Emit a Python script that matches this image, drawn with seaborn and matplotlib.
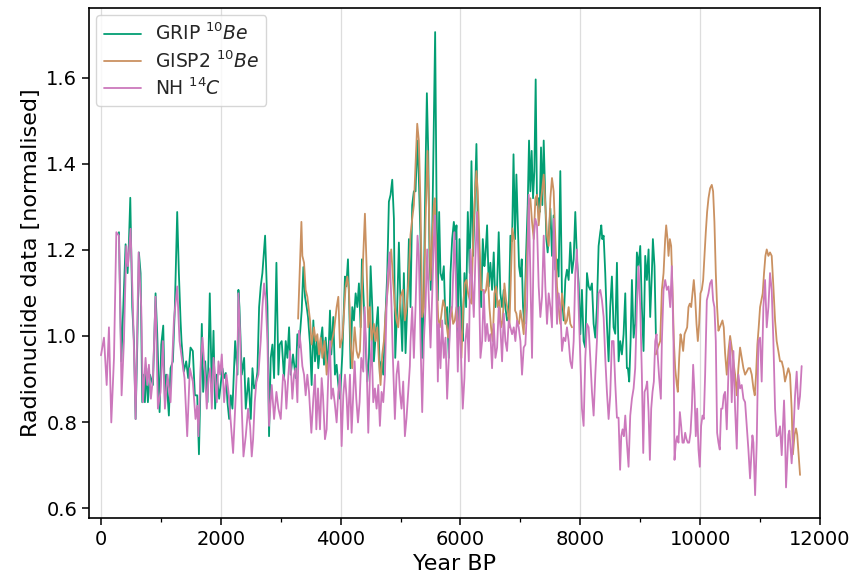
import matplotlib
matplotlib.use("Agg")
import matplotlib.pyplot as plt
from matplotlib.ticker import MultipleLocator
import numpy as np
import pandas as pd
import seaborn as sns

# ---------------- data ----------------
grip_year = [
    300, 339, 356, 411, 444, 461, 489, 522, 550, 578,
    606, 633, 661, 689, 717, 733, 756, 783, 817, 867,
    911, 939, 978, 1006, 1039, 1067, 1089, 1133, 1161, 1200,
    1233, 1272, 1300, 1328, 1344, 1383, 1422, 1456, 1494, 1533,
    1567, 1606, 1635, 1683, 1705, 1739, 1778, 1816, 1850, 1878,
    1905, 1933, 1972, 2027, 2055, 2083, 2111, 2139, 2166, 2194,
    2239, 2278, 2294, 2311, 2350, 2389, 2416, 2461, 2500, 2528,
    2555, 2583, 2611, 2639, 2666, 2694, 2739, 2778, 2805, 2833,
    2861, 2889, 2928, 2961, 2983, 3016, 3055, 3083, 3111, 3139,
    3166, 3205, 3250, 3278, 3305, 3350, 3378, 3405, 3433, 3455,
    3489, 3516, 3544, 3572, 3600, 3627, 3666, 3694, 3722, 3750,
    3789, 3822, 3844, 3877, 3905, 3933, 3961, 3989, 4028, 4072,
    4094, 4122, 4144, 4166, 4194, 4222, 4250, 4278, 4305, 4333,
    4355, 4389, 4416, 4444, 4472, 4500, 4528, 4555, 4594, 4622,
    4655, 4683, 4711, 4750, 4778, 4805, 4833, 4861, 4889, 4911,
    4944, 4972, 5000, 5028, 5055, 5083, 5111, 5139, 5166, 5194,
    5222, 5250, 5278, 5305, 5333, 5361, 5389, 5416, 5439, 5461,
    5483, 5505, 5527, 5555, 5577, 5600, 5622, 5644, 5666, 5694,
    5722, 5750, 5777, 5805, 5833, 5861, 5889, 5916, 5933, 5955,
    5983, 6016, 6038, 6066, 6094, 6122, 6155, 6183, 6211, 6238,
    6266, 6288, 6316, 6344, 6372, 6399, 6416, 6444, 6472, 6499,
    6527, 6555, 6583, 6611, 6638, 6666, 6694, 6722, 6749, 6777,
    6805, 6833, 6861, 6885, 6911, 6933, 6955, 6977, 7000, 7022,
    7044, 7066, 7094, 7122, 7144, 7166, 7188, 7211, 7233, 7255,
    7277, 7300, 7322, 7344, 7366, 7389, 7411, 7433, 7455, 7477,
    7500, 7527, 7555, 7583, 7611, 7638, 7666, 7694, 7722, 7750,
    7777, 7805, 7833, 7861, 7889, 7916, 7944, 7972, 8000, 8027,
    8055, 8083, 8111, 8139, 8166, 8194, 8222, 8250, 8277, 8305,
    8333, 8350, 8366, 8389, 8416, 8444, 8472, 8499, 8527, 8555,
    8583, 8611, 8639, 8666, 8694, 8722, 8750, 8777, 8794, 8816,
    8839, 8861, 8889, 8916, 8944, 8972, 9000, 9027, 9055, 9083,
    9111, 9139, 9166, 9194, 9211, 9238, 9261,
]
grip_value = [
    1.241, 0.941, 1.004, 1.213, 1.146, 1.194, 1.321, 1.067, 0.988, 0.807,
    0.980, 1.194, 1.146, 0.846, 0.910, 0.846, 0.925, 0.846, 0.910, 0.886,
    1.099, 1.004, 0.823, 0.980, 1.024, 0.846, 0.910, 0.815, 0.925, 0.941,
    1.067, 1.288, 1.146, 1.036, 0.988, 0.917, 0.941, 0.902, 0.973, 0.965,
    0.862, 0.862, 0.725, 1.028, 0.870, 0.941, 0.846, 1.099, 0.870, 1.012,
    0.831, 0.910, 0.854, 0.925, 0.902, 0.914, 0.846, 0.807, 0.862, 0.831,
    0.988, 0.910, 1.107, 1.067, 0.910, 0.949, 0.831, 0.902, 0.807, 0.925,
    0.878, 0.886, 0.917, 1.067, 1.115, 1.146, 1.233, 1.067, 0.767, 0.949,
    0.980, 0.902, 1.170, 0.910, 0.980, 0.988, 0.902, 0.988, 0.949, 1.020,
    0.910, 0.957, 0.902, 1.004, 0.973, 1.059, 1.160, 1.091, 1.067, 1.044,
    0.980, 0.886, 1.036, 0.941, 0.988, 0.925, 0.988, 1.020, 0.933, 0.996,
    0.925, 1.059, 0.957, 1.044, 0.910, 0.933, 0.886, 0.854, 0.957, 1.138,
    1.115, 1.178, 1.067, 0.925, 1.067, 1.036, 1.099, 1.067, 1.122, 1.020,
    1.178, 1.067, 0.988, 0.894, 0.949, 1.162, 1.067, 0.941, 1.020, 1.067,
    0.910, 0.941, 0.910, 1.052, 1.146, 1.312, 1.328, 1.363, 1.272, 0.949,
    1.067, 1.217, 1.067, 0.965, 1.146, 0.960, 1.067, 1.225, 1.067, 1.304,
    1.336, 1.336, 1.454, 1.367, 1.225, 0.949, 1.107, 1.383, 1.564, 1.430,
    1.186, 1.107, 1.225, 1.501, 1.706, 1.320, 1.083, 1.288, 1.146, 1.130,
    1.162, 1.028, 1.067, 0.949, 1.146, 1.225, 1.265, 1.225, 1.257, 0.996,
    1.225, 1.028, 0.988, 1.146, 1.067, 1.288, 1.146, 1.406, 1.186, 1.304,
    1.446, 1.265, 1.186, 1.067, 1.225, 1.162, 1.186, 1.257, 1.115, 1.170,
    1.107, 1.194, 1.067, 1.115, 1.241, 1.099, 1.067, 1.107, 1.067, 1.036,
    1.044, 1.233, 1.220, 1.422, 1.225, 1.375, 1.265, 1.162, 1.138, 1.178,
    1.067, 1.028, 1.186, 1.304, 1.454, 1.336, 1.430, 1.320, 1.383, 1.596,
    1.304, 1.320, 1.288, 1.438, 1.304, 1.454, 1.343, 1.225, 1.194, 1.241,
    1.296, 1.186, 1.280, 1.154, 1.178, 1.138, 1.383, 1.091, 1.036, 1.130,
    1.154, 1.130, 1.217, 1.146, 1.178, 1.288, 1.178, 1.122, 1.004, 1.107,
    0.988, 0.973, 1.146, 1.115, 1.107, 1.122, 1.028, 0.996, 1.067, 1.209,
    1.241, 1.257, 1.225, 1.233, 1.146, 1.028, 0.941, 1.067, 1.138, 1.020,
    1.005, 1.170, 0.941, 0.988, 0.957, 1.004, 1.099, 0.925, 0.925, 0.894,
    0.988, 1.130, 0.996, 1.028, 1.194, 1.162, 1.209, 1.067, 0.965, 1.186,
    1.130, 1.201, 1.044, 1.146, 1.225, 1.162, 1.004,
]

# GISP2 has a gap between ~7860 and ~9260 yr BP
gisp2_year_a = [
    3290, 3345, 3361, 3389, 3416, 3444, 3489, 3516, 3555, 3583,
    3611, 3639, 3666, 3694, 3733, 3766, 3805, 3844, 3889, 3933,
    3961, 3989, 4028, 4055, 4083, 4111, 4139, 4166, 4194, 4233,
    4266, 4294, 4322, 4361, 4405, 4433, 4461, 4489, 4516, 4555,
    4583, 4611, 4639, 4666, 4694, 4722, 4750, 4789, 4822, 4844,
    4878, 4905, 4933, 4961, 5000, 5039, 5072, 5100, 5133, 5166,
    5194, 5222, 5250, 5278, 5305, 5333, 5361, 5389, 5416, 5450,
    5472, 5500, 5527, 5555, 5572, 5600, 5627, 5655, 5683, 5711,
    5739, 5766, 5794, 5822, 5850, 5877, 5905, 5933, 5961, 5988,
    6016, 6044, 6072, 6100, 6127, 6155, 6183, 6211, 6238, 6266,
    6288, 6316, 6344, 6372, 6399, 6427, 6455, 6483, 6510, 6538,
    6566, 6594, 6622, 6650, 6677, 6705, 6733, 6761, 6788, 6816,
    6844, 6866, 6899, 6911, 6933, 6955, 6977, 7000, 7027, 7055,
    7083, 7111, 7139, 7166, 7194, 7222, 7250, 7277, 7305, 7333,
    7361, 7389, 7416, 7444, 7472, 7500, 7527, 7555, 7583, 7611,
    7638, 7666, 7694, 7722, 7750, 7777, 7805, 7833, 7861,
]
gisp2_value_a = [
    1.040, 1.265, 1.186, 1.170, 1.107, 1.091, 1.036, 0.980, 1.020, 0.988,
    1.004, 0.957, 0.996, 0.949, 0.988, 0.910, 0.949, 0.980, 1.012, 1.067,
    1.091, 0.973, 0.996, 1.052, 1.115, 1.138, 1.107, 0.988, 0.925, 1.020,
    0.965, 0.949, 0.965, 1.130, 1.284, 1.162, 1.020, 1.067, 0.988, 1.028,
    0.988, 1.020, 0.941, 0.886, 0.957, 0.988, 1.052, 1.115, 1.170, 1.201,
    1.122, 1.067, 1.036, 1.020, 1.091, 1.107, 1.036, 1.067, 1.130, 1.235,
    1.272, 1.304, 1.399, 1.493, 1.454, 1.304, 1.044, 1.067, 1.265, 1.430,
    1.304, 1.130, 1.225, 1.304, 1.320, 1.146, 1.044, 1.020, 1.052, 1.083,
    1.067, 1.028, 0.996, 1.028, 1.067, 1.028, 1.036, 1.067, 1.020, 1.036,
    0.949, 1.067, 1.122, 1.130, 1.099, 1.083, 1.075, 1.225, 1.320, 1.383,
    1.336, 1.225, 1.107, 1.107, 1.099, 1.107, 1.146, 1.067, 1.020, 0.988,
    1.099, 1.115, 1.067, 1.083, 1.020, 1.036, 1.122, 1.083, 1.059, 1.020,
    1.146, 1.250, 1.220, 1.059, 1.052, 1.028, 1.028, 1.059, 1.036, 1.004,
    1.107, 1.186, 1.304, 1.320, 1.265, 1.225, 1.320, 1.328, 1.257, 1.304,
    1.336, 1.375, 1.304, 1.233, 1.209, 1.320, 1.367, 1.336, 1.225, 1.115,
    1.067, 1.028, 1.099, 1.067, 1.028, 1.036, 1.067, 1.028, 1.020,
]
gisp2_year_b = [
    9261, 9294, 9333, 9361, 9389, 9416, 9433, 9455, 9472, 9494,
    9516, 9539, 9561, 9583, 9611, 9627, 9650, 9672, 9694, 9716,
    9739, 9761, 9783, 9805, 9827, 9850, 9872, 9894, 9916, 9939,
    9961, 9983, 10005, 10027, 10050, 10072, 10094, 10116, 10139, 10166,
    10194, 10216, 10238, 10261, 10283, 10305, 10327, 10350, 10372, 10394,
    10416, 10444, 10472, 10500, 10527, 10555, 10583, 10611, 10638, 10666,
    10694, 10722, 10750, 10777, 10805, 10833, 10861, 10889, 10911, 10933,
    10955, 10977, 11000, 11022, 11044, 11066, 11089, 11111, 11139, 11166,
    11194, 11222, 11250, 11277, 11305, 11333, 11361, 11389, 11416, 11444,
    11472, 11500, 11527, 11548, 11575, 11600, 11620, 11667,
]
gisp2_value_b = [
    0.957, 0.973, 0.988, 1.107, 1.146, 1.225, 1.257, 1.225, 1.186, 1.225,
    1.209, 1.107, 0.988, 0.925, 0.886, 0.870, 0.949, 1.004, 0.988, 0.965,
    1.004, 1.012, 1.020, 1.067, 1.075, 1.067, 1.099, 1.130, 1.091, 1.028,
    0.988, 1.028, 1.099, 1.107, 1.130, 1.186, 1.241, 1.288, 1.320, 1.343,
    1.351, 1.336, 1.265, 1.146, 1.067, 1.012, 1.020, 1.028, 1.036, 1.020,
    0.960, 0.910, 0.965, 1.000, 0.973, 0.941, 0.910, 0.862, 0.925, 0.973,
    0.949, 0.925, 0.910, 0.917, 0.925, 0.925, 0.910, 0.878, 0.862, 0.910,
    0.980, 1.020, 1.067, 1.083, 1.099, 1.146, 1.186, 1.201, 1.186, 1.194,
    1.186, 1.115, 1.036, 0.988, 0.965, 0.941, 0.941, 0.925, 0.894, 0.910,
    0.925, 0.910, 0.830, 0.725, 0.770, 0.785, 0.770, 0.677,
]

nh_year = [
    0, 50, 95, 133, 172, 217, 256, 300, 344, 383,
    422, 450, 494, 533, 578, 628, 672, 700, 744, 772,
    800, 833, 867, 911, 950, 994, 1033, 1067, 1111, 1161,
    1217, 1256, 1272, 1311, 1356, 1394, 1439, 1483, 1533, 1578,
    1606, 1627, 1666, 1694, 1739, 1766, 1794, 1822, 1850, 1878,
    1905, 1933, 1961, 1989, 2016, 2055, 2094, 2128, 2166, 2205,
    2239, 2278, 2294, 2322, 2350, 2378, 2416, 2455, 2489, 2516,
    2539, 2566, 2594, 2627, 2666, 2694, 2722, 2750, 2778, 2805,
    2850, 2889, 2928, 2961, 3000, 3039, 3072, 3094, 3128, 3155,
    3194, 3222, 3250, 3278, 3305, 3333, 3361, 3389, 3416, 3444,
    3472, 3511, 3544, 3572, 3594, 3622, 3655, 3683, 3705, 3738,
    3766, 3794, 3822, 3844, 3872, 3900, 3933, 3961, 3989, 4016,
    4044, 4072, 4100, 4122, 4155, 4183, 4211, 4233, 4261, 4289,
    4316, 4344, 4378, 4400, 4428, 4461, 4489, 4516, 4544, 4572,
    4600, 4628, 4655, 4683, 4711, 4739, 4766, 4789, 4816, 4844,
    4872, 4905, 4933, 4961, 4989, 5016, 5044, 5072, 5100, 5128,
    5155, 5166, 5194, 5222, 5250, 5283, 5305, 5333, 5361, 5389,
    5416, 5444, 5472, 5500, 5527, 5555, 5572, 5600, 5622, 5639,
    5666, 5694, 5722, 5750, 5777, 5805, 5833, 5861, 5899, 5927,
    5955, 5983, 6011, 6038, 6066, 6083, 6111, 6139, 6166, 6194,
    6222, 6250, 6277, 6305, 6333, 6361, 6389, 6416, 6444, 6472,
    6499, 6527, 6555, 6583, 6611, 6638, 6666, 6694, 6722, 6749,
    6777, 6805, 6833, 6861, 6889, 6916, 6944, 6972, 7000, 7027,
    7055, 7083, 7111, 7139, 7166, 7194, 7222, 7250, 7277, 7305,
    7333, 7361, 7389, 7416, 7444, 7472, 7500, 7527, 7555, 7583,
    7611, 7638, 7666, 7694, 7722, 7750, 7777, 7805, 7833, 7861,
    7889, 7916, 7944, 7972, 8000, 8027, 8055, 8083, 8111, 8139,
    8166, 8194, 8222, 8250, 8277, 8305, 8333, 8361, 8389, 8416,
    8444, 8472, 8499, 8527, 8555, 8583, 8611, 8638, 8664, 8683,
    8705, 8727, 8750, 8777, 8805, 8833, 8861, 8889, 8916, 8944,
    8972, 9000, 9027, 9050, 9072, 9094, 9116, 9139, 9161, 9183,
    9205, 9227, 9250, 9272, 9294, 9316, 9344, 9361, 9389, 9416,
    9444, 9472, 9500, 9527, 9555, 9572, 9594, 9616, 9638, 9661,
    9683, 9705, 9727, 9750, 9772, 9794, 9816, 9839, 9861, 9883,
    9905, 9927, 9950, 9972, 9994, 10016, 10039, 10061, 10083, 10111,
    10139, 10166, 10194, 10216, 10238, 10261, 10283, 10305, 10327, 10350,
    10372, 10394, 10416, 10444, 10472, 10500, 10527, 10555, 10583, 10611,
    10638, 10666, 10694, 10722, 10750, 10777, 10805, 10833, 10872, 10889,
    10917, 10944, 10972, 11000, 11027, 11055, 11083, 11111, 11139, 11166,
    11194, 11222, 11250, 11277, 11305, 11333, 11361, 11400, 11416, 11433,
    11472, 11489, 11527, 11555, 11583, 11611, 11639, 11666, 11694,
]
nh_value = [
    0.955, 0.996, 0.886, 1.020, 0.799, 0.949, 1.241, 1.233, 0.862, 0.988,
    1.209, 1.162, 1.249, 1.067, 0.807, 1.194, 1.067, 0.846, 0.949, 0.886,
    0.933, 0.854, 0.902, 1.091, 0.831, 0.870, 0.988, 0.831, 0.910, 0.846,
    1.036, 1.091, 1.115, 0.988, 0.941, 0.902, 0.767, 0.925, 0.894, 0.807,
    0.838, 0.767, 0.941, 0.996, 0.902, 0.831, 0.902, 0.925, 0.831, 0.949,
    0.902, 0.846, 0.941, 0.910, 0.957, 0.846, 0.910, 0.870, 0.799, 0.728,
    0.831, 0.949, 1.099, 1.004, 0.831, 0.720, 0.767, 0.831, 0.791, 0.720,
    0.760, 0.846, 0.894, 0.910, 0.988, 1.067, 1.122, 1.083, 0.988, 0.791,
    0.886, 0.807, 0.870, 0.831, 0.807, 0.910, 0.894, 0.831, 0.910, 0.965,
    0.854, 0.910, 0.925, 0.846, 1.012, 0.980, 0.930, 0.910, 0.862, 0.910,
    0.870, 0.775, 0.854, 0.910, 0.783, 0.878, 0.783, 0.902, 0.862, 0.760,
    0.783, 0.910, 0.988, 0.854, 0.878, 0.846, 0.799, 0.870, 0.910, 0.744,
    0.862, 0.910, 0.854, 0.783, 0.910, 0.775, 0.870, 0.941, 0.854, 0.799,
    0.846, 0.949, 0.917, 1.067, 0.965, 0.775, 0.910, 0.988, 0.846, 0.878,
    0.831, 0.886, 0.791, 0.870, 0.846, 0.910, 1.067, 1.146, 1.194, 1.091,
    0.949, 0.807, 0.910, 0.941, 0.870, 0.831, 0.894, 0.767, 0.810, 0.870,
    0.930, 0.988, 1.067, 0.949, 1.067, 1.233, 1.186, 0.988, 0.823, 0.988,
    1.067, 1.201, 1.083, 0.973, 1.091, 1.225, 1.280, 1.099, 0.894, 1.028,
    0.925, 1.036, 0.949, 0.996, 0.854, 0.949, 1.052, 1.067, 1.241, 1.107,
    0.917, 1.067, 0.949, 0.831, 0.902, 0.988, 1.028, 0.941, 1.201, 1.130,
    1.044, 1.186, 1.288, 1.146, 0.949, 0.988, 1.107, 0.988, 1.028, 0.988,
    1.004, 0.925, 1.028, 0.949, 0.973, 1.067, 1.020, 0.941, 1.052, 0.988,
    0.965, 1.036, 1.020, 1.004, 1.020, 0.988, 1.036, 1.020, 0.988, 0.910,
    0.973, 0.980, 1.067, 1.328, 1.146, 0.949, 1.225, 1.272, 1.257, 1.115,
    1.044, 1.091, 1.233, 1.115, 1.028, 1.099, 1.067, 1.020, 1.272, 1.146,
    1.028, 1.099, 1.067, 0.965, 0.996, 0.988, 1.020, 0.988, 0.941, 0.925,
    0.988, 1.146, 1.201, 1.067, 0.949, 0.831, 0.791, 0.949, 1.028, 1.020,
    0.949, 0.870, 0.815, 0.910, 0.988, 1.099, 1.107, 1.083, 1.044, 0.949,
    0.870, 0.807, 0.862, 0.988, 0.988, 0.890, 0.810, 0.810, 0.689, 0.767,
    0.783, 0.767, 0.815, 0.752, 0.696, 0.815, 0.854, 0.878, 0.925, 1.067,
    1.162, 1.067, 0.910, 0.728, 0.870, 0.878, 0.894, 0.823, 0.712, 0.831,
    0.870, 0.894, 0.988, 1.004, 0.949, 0.902, 0.854, 0.988, 1.107, 1.130,
    1.107, 1.115, 1.067, 1.162, 0.988, 0.712, 0.752, 0.767, 0.752, 0.823,
    0.791, 0.752, 0.752, 0.775, 0.760, 0.752, 0.752, 0.775, 0.831, 0.933,
    0.870, 0.767, 0.831, 0.736, 0.696, 0.791, 0.815, 0.807, 0.910, 1.083,
    1.099, 1.122, 1.130, 1.083, 1.067, 0.988, 0.775, 0.752, 0.736, 0.831,
    0.831, 0.862, 0.870, 0.783, 0.917, 0.988, 0.846, 0.965, 0.831, 0.738,
    0.910, 0.878, 0.886, 0.854, 0.846, 0.791, 0.736, 0.669, 0.769, 0.752,
    0.630, 0.752, 0.988, 0.996, 0.894, 1.067, 1.130, 1.020, 1.067, 1.146,
    1.107, 0.988, 0.831, 0.767, 0.770, 0.790, 0.723, 0.850, 0.780, 0.648,
    0.770, 0.780, 0.704, 0.770, 0.860, 0.917, 0.830, 0.860, 0.930,
]

series_labels = [r"GRIP $^{10}Be$", r"GISP2 $^{10}Be$", r"NH $^{14}C$"]
xticks = [0, 2000, 4000, 6000, 8000, 10000, 12000]
yticks = [0.6, 0.8, 1.0, 1.2, 1.4, 1.6]

# ---------------- assemble long-form table ----------------
df = pd.concat([
    pd.DataFrame({"year": grip_year, "value": grip_value,
                  "series": series_labels[0], "segment": "grip"}),
    pd.DataFrame({"year": gisp2_year_a, "value": gisp2_value_a,
                  "series": series_labels[1], "segment": "gisp2_a"}),
    pd.DataFrame({"year": gisp2_year_b, "value": gisp2_value_b,
                  "series": series_labels[1], "segment": "gisp2_b"}),
    pd.DataFrame({"year": nh_year, "value": nh_value,
                  "series": series_labels[2], "segment": "nh"}),
], ignore_index=True)

# ---------------- plot ----------------
sns.set_theme(style="ticks", palette="colorblind")
plt.rcParams["font.family"] = ["DejaVu Sans"]
cb = sns.color_palette("colorblind")
palette = {series_labels[0]: cb[2], series_labels[1]: cb[5], series_labels[2]: cb[4]}

fig = plt.figure(figsize=(8.5, 5.79), dpi=100)
ax = fig.add_axes([0.1047, 0.1054, 0.8600, 0.8808])

sns.lineplot(data=df, x="year", y="value", hue="series", units="segment",
             estimator=None, sort=False, hue_order=series_labels,
             palette=palette, linewidth=1.3, ax=ax)

ax.set_xlim(-200, 12000)
ax.set_ylim(0.577, 1.762)
ax.set_xticks(xticks)
ax.set_yticks(yticks)
ax.set_yticklabels([f"{t:.1f}" for t in yticks])
ax.xaxis.set_minor_locator(MultipleLocator(1000))
ax.tick_params(axis="both", which="major", labelsize=14, length=5, width=1.1,
               color="black", labelcolor="black")
ax.tick_params(axis="x", which="minor", length=3, width=0.9, color="black")
ax.grid(axis="x", which="major", color="#dddddd", linewidth=0.9)
ax.set_axisbelow(True)
for sp in ax.spines.values():
    sp.set_color("black")
    sp.set_linewidth(1.2)

ax.set_xlabel("Year BP", fontsize=16, color="black")
ax.set_ylabel("Radionuclide data [normalised]", fontsize=16, color="black")

handles, labels = ax.get_legend_handles_labels()
ax.legend(handles, labels, loc="upper left", fontsize=13.5, frameon=True,
          framealpha=0.8, borderaxespad=0.4, labelspacing=0.3,
          handletextpad=0.7)

fig.savefig("out.png", dpi=100)
